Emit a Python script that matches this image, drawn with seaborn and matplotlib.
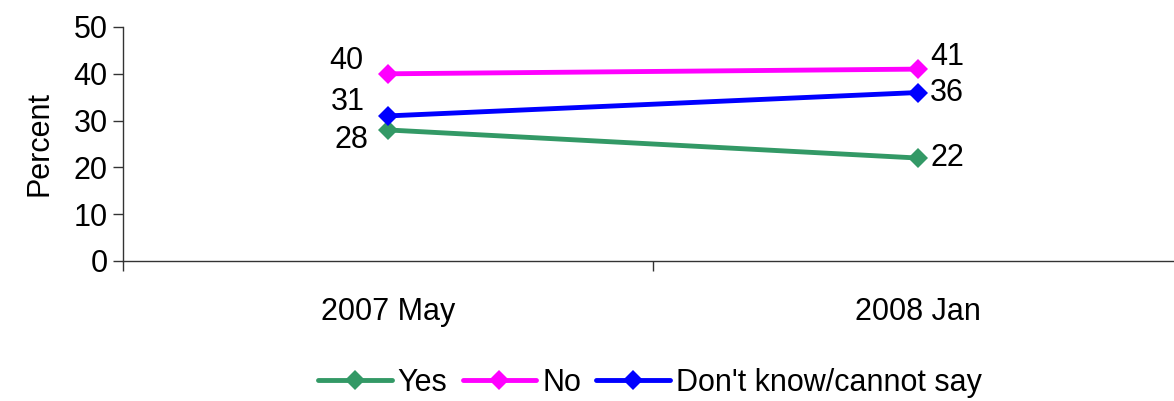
import matplotlib
matplotlib.use("Agg")
import matplotlib.pyplot as plt
import seaborn as sns
import pandas as pd
from matplotlib.ticker import FixedLocator, NullFormatter

# Survey waves and response shares (%)
waves = ["2007 May", "2008 Jan"]
yes_vals = [28, 22]
no_vals = [40, 41]
dk_vals = [31, 36]
series_names = ["Yes", "No", "Don't know/cannot say"]
colors = ["#339966", "#FF00FF", "#0000FF"]

sns.set_theme(style="white")
plt.rcParams["font.family"] = ["Liberation Sans", "DejaVu Sans"]
plt.rcParams["text.color"] = "black"
plt.rcParams["axes.labelcolor"] = "black"
plt.rcParams["xtick.color"] = "black"
plt.rcParams["ytick.color"] = "black"

rows = []
for name, vals in zip(series_names, [yes_vals, no_vals, dk_vals]):
    for i, v in enumerate(vals):
        rows.append({"pos": i, "wave": waves[i], "value": v, "series": name})
df = pd.DataFrame(rows)

fig = plt.figure(figsize=(11.74, 4.01), dpi=100)
ax = fig.add_axes([123 / 1174, 140 / 401, 1060 / 1174, 234 / 401])

sns.lineplot(data=df, x="pos", y="value", hue="series", hue_order=series_names,
             palette=colors, marker="D", markersize=10, markeredgewidth=0,
             linewidth=3.5, ax=ax, legend=False)

# Value labels: left of the first wave, right of the second
offsets = {
    ("Yes", 0): (-26, -7), ("No", 0): (-30, 9), ("Don't know/cannot say", 0): (-29, 10),
    ("Yes", 1): (21, 0), ("No", 1): (21, 9), ("Don't know/cannot say", 1): (21, 0),
}
for _, r in df.iterrows():
    dx, dy = offsets[(r["series"], r["pos"])]
    ax.annotate(f"{r['value']:g}", (r["pos"], r["value"]), xytext=(dx, dy),
                textcoords="offset points", ha="center", va="center",
                fontsize=22, color="black")

ax.set_xlim(-0.5, 1.5)
ax.set_ylim(0, 50)
ax.set_yticks(range(0, 51, 10))
ax.xaxis.set_major_locator(FixedLocator([0, 1]))
ax.set_xticklabels(waves)
ax.xaxis.set_minor_locator(FixedLocator([-0.5, 0.5, 1.5]))
ax.xaxis.set_minor_formatter(NullFormatter())
ax.tick_params(axis="x", which="major", length=0, pad=26, labelsize=22,
               labelcolor="black")
ax.tick_params(axis="x", which="minor", length=7, width=1, direction="out",
               color="#333333", bottom=True)
ax.tick_params(axis="y", which="major", length=7, width=1, direction="out",
               color="#333333", left=True, labelsize=22, pad=4, labelcolor="black")
ax.set_xlabel("")
ax.set_ylabel("Percent", fontsize=22, labelpad=14, color="black")

for side in ["top", "right"]:
    ax.spines[side].set_visible(False)
for side in ["left", "bottom"]:
    ax.spines[side].set_color("#333333")
    ax.spines[side].set_linewidth(1)

handles = ax.get_lines()[:3]
fig.legend(handles, series_names, loc="center", bbox_to_anchor=(650 / 1174, 1 - 383 / 401),
           ncol=3, frameon=False, handlelength=2.4, handletextpad=0.2,
           columnspacing=0.5, labelcolor="black",
           prop={"family": ["Liberation Sans"], "size": 22})

fig.savefig("out.png", dpi=100)
